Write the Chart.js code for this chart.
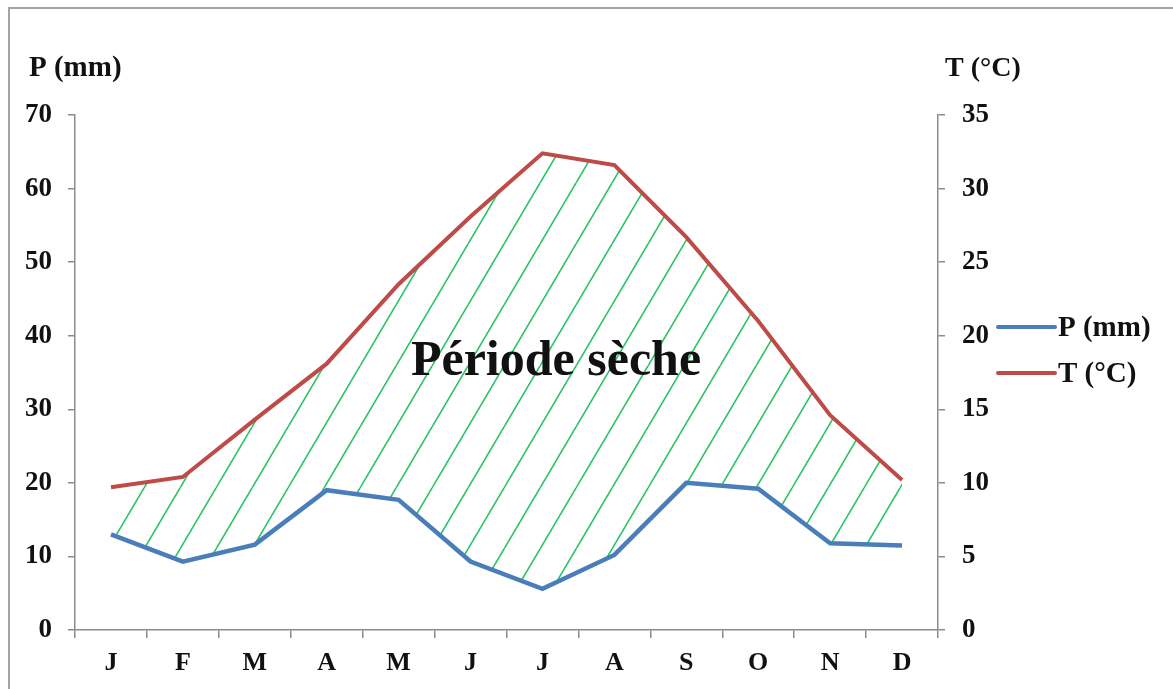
<!DOCTYPE html>
<html>
<head>
<meta charset="utf-8">
<script src="https://cdn.jsdelivr.net/npm/chart.js@4/dist/chart.umd.min.js"></script>
<style>
  html, body { margin: 0; padding: 0; background: #fff; }
  #wrap { position: relative; width: 1173px; height: 689px; }
</style>
</head>
<body>
<div id="wrap"><canvas id="climat"></canvas></div>
<script>
// données du diagramme ombrothermique
const mois = ['J', 'F', 'M', 'A', 'M', 'J', 'J', 'A', 'S', 'O', 'N', 'D'];
const precipitations = [13, 9.3, 11.6, 19, 17.7, 9.3, 5.6, 10.2, 20, 19.2, 11.8, 11.5];
const temperatures = [9.7, 10.4, 14.3, 18.1, 23.5, 28.1, 32.4, 31.6, 26.7, 21.0, 14.6, 10.2];
const ticksP = [0, 10, 20, 30, 40, 50, 60, 70];
const ticksT = [0, 5, 10, 15, 20, 25, 30, 35];

const SERIF = '"Liberation Serif", "Times New Roman", serif';
const BLEU = '#4a7ebb';
const ROUGE = '#be4b48';

// motif de hachures vertes pour la période sèche
function hachures() {
    const w = 36, h = 61;
    const c = document.createElement('canvas');
    c.width = w; c.height = h;
    const g = c.getContext('2d');
    g.strokeStyle = '#26c263';
    g.lineWidth = 1.6;
    [-w, 0, w].forEach(dx => {
        g.beginPath();
        g.moveTo(dx, h);
        g.lineTo(dx + w, 0);
        g.stroke();
    });
    return g.createPattern(c, 'repeat');
}

const decor = {
    id: 'decor',
    beforeDraw(chart) {
        const ctx = chart.ctx;
        ctx.save();
        ctx.strokeStyle = '#a3a3a3';
        ctx.lineWidth = 2;
        ctx.strokeRect(9, 8, 1300, 800);
        ctx.restore();
    },
    afterDraw(chart) {
        const ctx = chart.ctx;
        ctx.save();
        ctx.fillStyle = '#111';
        ctx.textBaseline = 'alphabetic';
        ctx.textAlign = 'left';
        ctx.font = 'bold 29px ' + SERIF;
        ctx.fillText('P (mm)', 29, 76);
        ctx.font = 'bold 28px ' + SERIF;
        ctx.fillText('T (°C)', 945, 76);

        // légende
        ctx.font = 'bold 29px ' + SERIF;
        const items = [
            { txt: 'P (mm)', col: BLEU, y: 327 },
            { txt: 'T (°C)', col: ROUGE, y: 373 }
        ];
        items.forEach(it => {
            ctx.strokeStyle = it.col;
            ctx.lineWidth = 4;
            ctx.lineCap = 'round';
            ctx.beginPath();
            ctx.moveTo(998, it.y);
            ctx.lineTo(1055, it.y);
            ctx.stroke();
            ctx.fillText(it.txt, 1058, it.y + 9);
        });

        ctx.font = 'bold 50px ' + SERIF;
        ctx.textAlign = 'center';
        ctx.fillText('Période sèche', 556, 375);
        ctx.restore();
    }
};

const ctx = document.getElementById('climat');
new Chart(ctx, {
    type: 'line',
    data: {
        labels: mois,
        datasets: [
            {
                label: 'P (mm)',
                data: precipitations,
                yAxisID: 'y',
                borderColor: BLEU,
                borderWidth: 4.5,
                pointRadius: 0,
                tension: 0,
                fill: false,
                order: 0
            },
            {
                label: 'T (°C)',
                data: temperatures,
                yAxisID: 'y1',
                borderColor: ROUGE,
                borderWidth: 4,
                pointRadius: 0,
                tension: 0,
                fill: { target: 0 },
                backgroundColor: hachures(),
                order: 1
            }
        ]
    },
    options: {
        responsive: true,
        maintainAspectRatio: false,
        animation: false,
        layout: { padding: { top: 115, left: 0, right: 0, bottom: 0 } },
        plugins: {
            legend: { display: false },
            tooltip: { enabled: false }
        },
        scales: {
            x: {
                offset: true,
                grid: { offset: true, drawOnChartArea: false, drawTicks: true, tickLength: 8, color: '#8c8c8c', lineWidth: 1.5 },
                border: { display: true, color: '#8c8c8c', width: 1.5 },
                ticks: { color: '#111', font: { family: SERIF, size: 26, weight: 'bold' }, padding: 10, maxRotation: 0 },
                afterFit(s) { s.height = 59; }
            },
            y: {
                position: 'left',
                min: 0, max: 70,
                afterBuildTicks(s) { s.ticks = ticksP.map(v => ({ value: v })); },
                grid: { drawOnChartArea: false, drawTicks: true, tickLength: 7, color: '#8c8c8c', lineWidth: 1.5 },
                border: { display: true, color: '#8c8c8c', width: 1.5 },
                ticks: { color: '#111', font: { family: SERIF, size: 27, weight: 'bold' }, padding: 16 },
                afterFit(s) { s.width = 75; }
            },
            y1: {
                position: 'right',
                min: 0, max: 35,
                afterBuildTicks(s) { s.ticks = ticksT.map(v => ({ value: v })); },
                grid: { drawOnChartArea: false, drawTicks: true, tickLength: 7, color: '#8c8c8c', lineWidth: 1.5 },
                border: { display: true, color: '#8c8c8c', width: 1.5 },
                ticks: { color: '#111', font: { family: SERIF, size: 27, weight: 'bold' }, padding: 17 },
                afterFit(s) { s.width = 235; }
            }
        }
    },
    plugins: [decor]
});
</script>
</body>
</html>
